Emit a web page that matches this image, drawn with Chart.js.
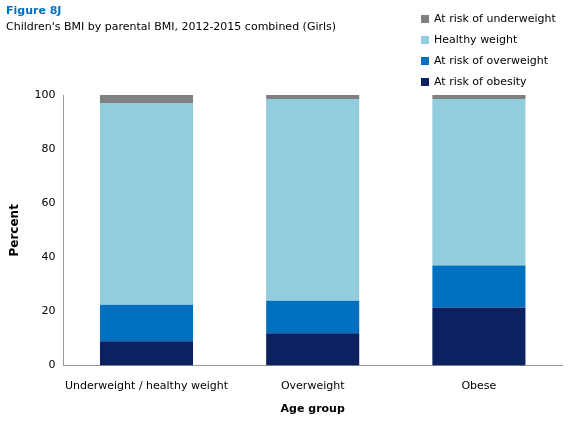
<!DOCTYPE html>
<html><head><meta charset="utf-8">
<script src="https://cdn.jsdelivr.net/npm/chart.js@4"></script>
<style>
body{margin:0;width:576px;height:426px;font-family:"DejaVu Sans",sans-serif;position:relative;overflow:hidden;background:#fff}
#t1{position:absolute;left:6px;top:4px;font-size:11px;font-weight:bold;color:#0070c0}
#t2{position:absolute;left:6px;top:20px;font-size:11px;color:#000}
#leg{position:absolute;left:421px;top:8px;font-size:11px;color:#000}
#leg div{height:21px;display:flex;align-items:center}
#leg span{display:inline-block;width:8px;height:8px;margin-right:5px}
#wrap{position:absolute;left:0;top:0;width:576px;height:426px}
</style></head><body>
<div id="wrap"><canvas id="c"></canvas></div>
<div id="t1">Figure 8J</div>
<div id="t2">Children's BMI by parental BMI, 2012-2015 combined (Girls)</div>
<div id="leg"></div>
<script>
const categories=["Underweight / healthy weight","Overweight","Obese"];
const obesity=[9,12,21.5];
const overweight=[13.5,12,15.5];
const healthy=[74.5,74.5,61.5];
const underweight=[3,1.5,1.5];
const seriesNames=["At risk of obesity","At risk of overweight","Healthy weight","At risk of underweight"];
const colors=["#0b2160","#0070c0","#92cddd","#808080"];
const vals=[obesity,overweight,healthy,underweight];
const leg=document.getElementById('leg');
for(let i=3;i>=0;i--){leg.innerHTML+=`<div><span style="background:${colors[i]}"></span>${seriesNames[i]}</div>`;}
Chart.defaults.font.family='"DejaVu Sans",sans-serif';
Chart.defaults.font.size=11;
Chart.defaults.color='#000';
new Chart(document.getElementById('c'),{type:'bar',
data:{labels:categories,datasets:vals.map((v,i)=>({label:seriesNames[i],data:v,backgroundColor:colors[i],barPercentage:0.56,categoryPercentage:1}))},
options:{responsive:true,maintainAspectRatio:false,animation:false,
layout:{padding:{top:95,right:14,left:4,bottom:6}},
plugins:{legend:{display:false},tooltip:{enabled:false}},
scales:{x:{stacked:true,grid:{display:false},border:{color:'#999'},ticks:{padding:6,maxRotation:0,minRotation:0,autoSkip:false},title:{display:true,text:'Age group',font:{weight:'bold'},padding:{top:4}}},
y:{stacked:true,min:0,max:100,ticks:{stepSize:20,padding:8},grid:{display:false,drawTicks:false},border:{color:'#999'},title:{display:true,text:'Percent',font:{weight:'bold',size:12}}}}}});
</script></body></html>
